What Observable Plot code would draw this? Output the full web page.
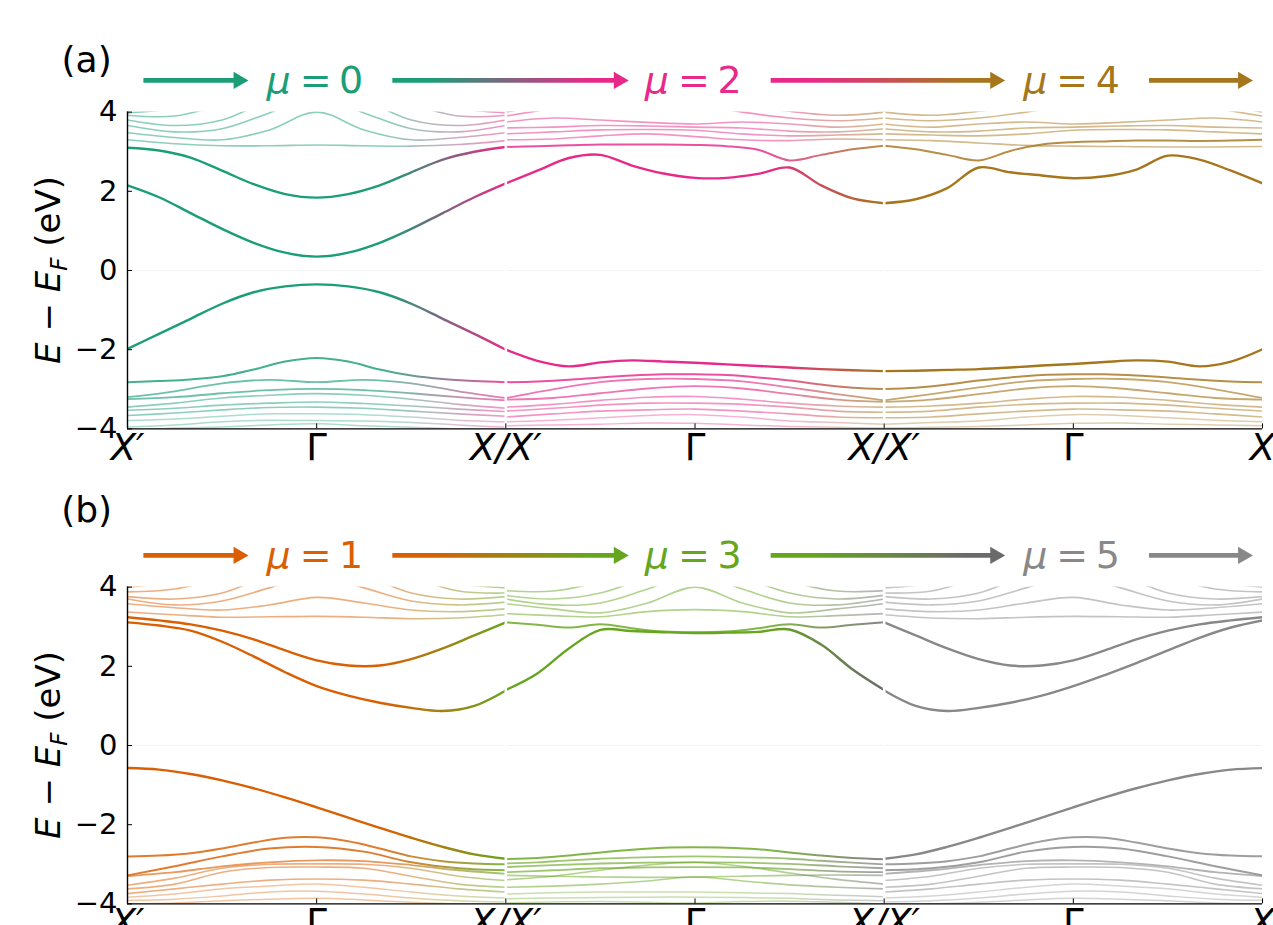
<!DOCTYPE html>
<html><head><meta charset="utf-8">
<script src="https://cdn.jsdelivr.net/npm/d3@7"></script>
<script src="https://cdn.jsdelivr.net/npm/@observablehq/plot@0.6"></script>
<style>
body{margin:0;background:#fff;font-family:"DejaVu Sans",sans-serif;}
svg{display:block;}
</style></head><body><div id="chart"></div>
<script>
// ---------------- DATA ----------------
// k-path: X' -> Γ -> X / X' -> Γ -> X / X' -> Γ -> X  (segments 0,1,2)
const xTickVals = [0, 1, 2, 3];
const xTickText = ["X\u2032", "X/X\u2032", "X/X\u2032", "X"];
const gammaTicks = [0.5, 1.5, 2.5];
const yTicks = [-4, -2, 0, 2, 4];
const muA = [0, 2, 4];
const muB = [1, 3, 5];
const colorsA = ["#1b9e77", "#e7298a", "#a6761d"];
const colorsB = ["#d95f02", "#66a61e", "#888888"];

// Panel (a), segment 0 (mu=0): main bands, 13 samples per segment
const a0_C2 = [3.10, 3.03, 2.85, 2.52, 2.18, 1.93, 1.84, 1.93, 2.15, 2.48, 2.80, 3.00, 3.12];
const a0_C1 = [2.15, 1.85, 1.45, 1.05, 0.70, 0.45, 0.35, 0.45, 0.70, 1.05, 1.45, 1.85, 2.20];
const a0_V1 = [-1.98, -1.60, -1.22, -0.84, -0.55, -0.40, -0.35, -0.40, -0.55, -0.84, -1.22, -1.60, -2.00];
const a0_V2 = [-2.82, -2.79, -2.75, -2.67, -2.50, -2.30, -2.21, -2.30, -2.50, -2.65, -2.74, -2.79, -2.82];
// faint bands, 9 samples per segment
const a0_up = [
  [3.30, 3.20, 3.15, 3.15, 3.17, 3.15, 3.14, 3.18, 3.28],
  [3.48, 3.36, 3.30, 3.55, 4.00, 3.55, 3.30, 3.36, 3.48],
  [3.66, 3.50, 3.58, 3.98, 4.40, 3.98, 3.58, 3.50, 3.66],
  [3.80, 3.66, 3.80, 4.30, 4.60, 4.30, 3.80, 3.66, 3.80],
  [3.92, 3.90, 4.20, 4.60, 4.80, 4.60, 4.20, 3.90, 3.92],
  [3.98, 4.10, 4.40, 4.70, 4.90, 4.70, 4.40, 4.10, 3.98]];
const a0_lo = [
  [-3.20, -3.05, -2.85, -2.76, -2.82, -2.76, -2.85, -3.05, -3.22],
  [-3.25, -3.20, -3.10, -3.02, -2.99, -3.02, -3.10, -3.20, -3.28],
  [-3.45, -3.35, -3.22, -3.15, -3.11, -3.15, -3.25, -3.38, -3.48],
  [-3.53, -3.48, -3.40, -3.35, -3.32, -3.36, -3.42, -3.50, -3.56],
  [-3.66, -3.60, -3.52, -3.46, -3.45, -3.48, -3.55, -3.62, -3.68],
  [-3.79, -3.75, -3.68, -3.62, -3.62, -3.64, -3.70, -3.78, -3.82],
  [-3.95, -3.90, -3.82, -3.78, -3.79, -3.80, -3.84, -3.90, -3.96],
  [-4.05, -3.98, -3.95, -3.90, -3.87, -3.92, -3.96, -4.00, -4.05]];

// Panel (a), segment 1 (mu=2)
const a1_D2 = [3.12, 3.14, 3.16, 3.18, 3.18, 3.18, 3.17, 3.14, 3.05, 2.78, 2.92, 3.06, 3.15];
const a1_D1 = [2.20, 2.52, 2.84, 2.92, 2.65, 2.45, 2.34, 2.34, 2.44, 2.60, 2.15, 1.82, 1.70];
const a1_V1 = [-2.00, -2.28, -2.42, -2.32, -2.27, -2.30, -2.33, -2.37, -2.41, -2.45, -2.49, -2.52, -2.54];
const a1_V2 = [-2.82, -2.80, -2.76, -2.70, -2.65, -2.62, -2.62, -2.64, -2.70, -2.78, -2.88, -2.96, -2.99];
const a1_up = [
  [3.30, 3.32, 3.40, 3.45, 3.38, 3.30, 3.28, 3.32, 3.30],
  [3.45, 3.50, 3.55, 3.56, 3.54, 3.45, 3.40, 3.42, 3.45],
  [3.60, 3.62, 3.66, 3.65, 3.62, 3.60, 3.52, 3.50, 3.58],
  [3.75, 3.85, 3.80, 3.74, 3.70, 3.75, 3.70, 3.62, 3.70],
  [3.90, 4.10, 4.35, 4.40, 4.20, 4.00, 3.85, 3.78, 3.85],
  [4.00, 4.25, 4.60, 4.60, 4.45, 4.20, 4.02, 3.92, 4.00]];
const a1_lo = [
  [-3.22, -3.00, -2.82, -2.74, -2.74, -2.80, -2.95, -3.12, -3.28],
  [-3.26, -3.22, -3.10, -2.98, -2.92, -2.98, -3.12, -3.26, -3.32],
  [-3.45, -3.38, -3.28, -3.20, -3.18, -3.25, -3.35, -3.42, -3.45],
  [-3.55, -3.48, -3.40, -3.35, -3.35, -3.38, -3.45, -3.55, -3.58],
  [-3.70, -3.62, -3.55, -3.52, -3.50, -3.55, -3.62, -3.70, -3.72],
  [-3.82, -3.78, -3.72, -3.66, -3.64, -3.70, -3.80, -3.84, -3.88],
  [-3.92, -3.90, -3.88, -3.85, -3.86, -3.90, -3.94, -3.96, -3.98]];

// Panel (a), segment 2 (mu=4)
const a2_D2 = [3.15, 3.06, 2.92, 2.78, 3.02, 3.18, 3.24, 3.26, 3.28, 3.28, 3.27, 3.28, 3.30];
const a2_D1 = [1.70, 1.80, 2.08, 2.60, 2.48, 2.40, 2.33, 2.38, 2.55, 2.90, 2.80, 2.52, 2.20];
const a2_V1 = [-2.54, -2.53, -2.51, -2.49, -2.45, -2.40, -2.36, -2.31, -2.27, -2.30, -2.42, -2.30, -1.99];
const a2_V2 = [-2.99, -2.96, -2.88, -2.78, -2.70, -2.64, -2.62, -2.62, -2.65, -2.70, -2.76, -2.80, -2.82];
const a2_up = [
  [3.30, 3.28, 3.22, 3.16, 3.14, 3.13, 3.12, 3.12, 3.13],
  [3.45, 3.42, 3.40, 3.45, 3.54, 3.56, 3.55, 3.50, 3.45],
  [3.58, 3.50, 3.52, 3.60, 3.62, 3.65, 3.66, 3.62, 3.60],
  [3.70, 3.62, 3.70, 3.75, 3.70, 3.74, 3.80, 3.85, 3.75],
  [3.85, 3.78, 3.85, 4.00, 4.20, 4.40, 4.35, 4.10, 3.90],
  [4.00, 3.92, 4.02, 4.20, 4.45, 4.60, 4.60, 4.25, 4.00]];
const a2_lo = [
  [-3.28, -3.12, -2.95, -2.80, -2.74, -2.74, -2.82, -3.00, -3.22],
  [-3.32, -3.26, -3.12, -2.98, -2.92, -2.98, -3.10, -3.22, -3.26],
  [-3.45, -3.42, -3.35, -3.25, -3.18, -3.20, -3.28, -3.38, -3.45],
  [-3.58, -3.55, -3.45, -3.38, -3.35, -3.35, -3.40, -3.48, -3.55],
  [-3.72, -3.70, -3.62, -3.55, -3.50, -3.52, -3.55, -3.62, -3.70],
  [-3.88, -3.84, -3.80, -3.70, -3.64, -3.66, -3.72, -3.78, -3.82],
  [-3.98, -3.96, -3.94, -3.90, -3.86, -3.85, -3.88, -3.90, -3.92]];

// Panel (b), segment 0 (mu=1)
const b0_B2 = [3.24, 3.16, 3.06, 2.90, 2.68, 2.40, 2.15, 2.02, 2.02, 2.18, 2.45, 2.78, 3.11];
const b0_B1 = [3.11, 3.03, 2.90, 2.62, 2.25, 1.85, 1.50, 1.26, 1.08, 0.95, 0.87, 1.00, 1.39];
const b0_V1 = [-0.57, -0.61, -0.72, -0.88, -1.08, -1.31, -1.56, -1.82, -2.08, -2.33, -2.56, -2.75, -2.86];
const b0_V2 = [-2.80, -2.78, -2.72, -2.60, -2.45, -2.33, -2.32, -2.42, -2.60, -2.80, -2.92, -2.98, -3.00];
const b0_up = [
  [3.37, 3.30, 3.24, 3.25, 3.26, 3.24, 3.20, 3.22, 3.30],
  [3.58, 3.48, 3.42, 3.55, 3.74, 3.60, 3.42, 3.38, 3.45],
  [3.70, 3.55, 3.65, 3.98, 4.30, 3.98, 3.65, 3.55, 3.62],
  [3.76, 3.70, 3.85, 4.30, 4.60, 4.30, 3.85, 3.70, 3.76],
  [3.88, 3.95, 4.25, 4.60, 4.80, 4.60, 4.25, 3.90, 3.85],
  [4.00, 4.15, 4.50, 4.80, 5.00, 4.80, 4.45, 4.10, 3.98]];
const b0_lo = [
  [-3.28, -3.05, -2.80, -2.60, -2.56, -2.68, -2.95, -3.10, -3.15],
  [-3.30, -3.20, -3.05, -2.95, -2.90, -2.92, -3.02, -3.15, -3.24],
  [-3.53, -3.35, -3.10, -3.00, -2.99, -3.00, -3.10, -3.30, -3.41],
  [-3.62, -3.50, -3.20, -3.08, -3.07, -3.10, -3.30, -3.50, -3.58],
  [-3.74, -3.62, -3.50, -3.40, -3.37, -3.40, -3.50, -3.62, -3.70],
  [-3.83, -3.75, -3.62, -3.55, -3.50, -3.58, -3.70, -3.80, -3.85],
  [-3.91, -3.88, -3.80, -3.70, -3.68, -3.75, -3.85, -3.92, -3.95],
  [-4.00, -3.98, -3.92, -3.88, -3.86, -3.90, -3.96, -4.00, -4.02]];

// Panel (b), segment 1 (mu=3)
const b1_G1 = [1.40, 1.82, 2.45, 2.92, 2.89, 2.86, 2.84, 2.85, 2.87, 2.93, 2.55, 1.92, 1.40];
const b1_G2 = [3.11, 3.05, 2.98, 3.06, 2.96, 2.88, 2.86, 2.88, 2.96, 3.06, 2.98, 3.05, 3.11];
const b1_V1 = [-2.87, -2.84, -2.78, -2.70, -2.63, -2.58, -2.57, -2.58, -2.62, -2.70, -2.78, -2.84, -2.87];
const b1_V2 = [-2.98, -2.95, -2.90, -2.86, -2.83, -2.81, -2.80, -2.81, -2.83, -2.86, -2.91, -2.96, -3.00];
const b1_up = [
  [3.33, 3.28, 3.25, 3.38, 3.43, 3.38, 3.25, 3.28, 3.33],
  [3.58, 3.45, 3.35, 3.60, 4.00, 3.60, 3.35, 3.45, 3.58],
  [3.70, 3.55, 3.60, 3.95, 4.35, 3.95, 3.60, 3.55, 3.70],
  [3.79, 3.70, 3.85, 4.25, 4.60, 4.25, 3.85, 3.70, 3.79],
  [3.91, 3.90, 4.15, 4.60, 4.80, 4.60, 4.15, 3.90, 3.91]];
const b1_lo = [
  [-3.07, -3.02, -2.98, -2.96, -2.95, -2.96, -2.99, -3.05, -3.10],
  [-3.20, -3.15, -3.10, -3.08, -3.07, -3.08, -3.12, -3.18, -3.20],
  [-3.39, -3.30, -3.15, -3.02, -2.95, -3.05, -3.22, -3.38, -3.50],
  [-3.28, -3.30, -3.32, -3.33, -3.32, -3.30, -3.28, -3.27, -3.28],
  [-3.58, -3.55, -3.50, -3.42, -3.32, -3.42, -3.52, -3.58, -3.62],
  [-3.75, -3.72, -3.70, -3.70, -3.70, -3.72, -3.74, -3.78, -3.82],
  [-3.87, -3.85, -3.84, -3.83, -3.83, -3.84, -3.86, -3.90, -3.92],
  [-3.97, -3.95, -3.94, -3.96, -3.98, -3.94, -3.93, -3.96, -4.00]];

// Panel (b), segment 2 (mu=5)
const b2_B1 = [1.39, 1.00, 0.87, 0.95, 1.08, 1.26, 1.50, 1.78, 2.08, 2.40, 2.72, 2.98, 3.16];
const b2_B2 = [3.11, 2.78, 2.45, 2.18, 2.02, 2.02, 2.15, 2.40, 2.68, 2.90, 3.06, 3.16, 3.24];
const b2_V1 = [-2.86, -2.75, -2.56, -2.33, -2.08, -1.82, -1.56, -1.31, -1.08, -0.88, -0.72, -0.61, -0.57];
const b2_V2 = [-3.00, -2.98, -2.92, -2.80, -2.60, -2.42, -2.32, -2.33, -2.45, -2.60, -2.72, -2.78, -2.80];
const b2_up = [
  [3.30, 3.22, 3.20, 3.24, 3.26, 3.25, 3.24, 3.30, 3.37],
  [3.45, 3.38, 3.42, 3.60, 3.74, 3.55, 3.42, 3.48, 3.58],
  [3.62, 3.55, 3.65, 3.98, 4.30, 3.98, 3.65, 3.55, 3.70],
  [3.76, 3.70, 3.85, 4.30, 4.60, 4.30, 3.85, 3.70, 3.76],
  [3.85, 3.90, 4.25, 4.60, 4.80, 4.60, 4.25, 3.95, 3.88],
  [3.98, 4.10, 4.45, 4.80, 5.00, 4.80, 4.50, 4.15, 4.00]];
const b2_lo = [
  [-3.15, -3.10, -2.95, -2.68, -2.56, -2.60, -2.80, -3.05, -3.28],
  [-3.24, -3.15, -3.02, -2.92, -2.90, -2.95, -3.05, -3.20, -3.30],
  [-3.41, -3.30, -3.10, -3.00, -2.99, -3.00, -3.10, -3.35, -3.53],
  [-3.58, -3.50, -3.30, -3.10, -3.07, -3.08, -3.20, -3.50, -3.62],
  [-3.70, -3.62, -3.50, -3.40, -3.37, -3.40, -3.50, -3.62, -3.74],
  [-3.85, -3.80, -3.70, -3.58, -3.50, -3.55, -3.62, -3.75, -3.83],
  [-3.95, -3.92, -3.85, -3.75, -3.68, -3.70, -3.80, -3.88, -3.91],
  [-4.02, -4.00, -3.96, -3.90, -3.86, -3.88, -3.92, -3.98, -4.00]];

// ---------------- STYLE / BUILD ----------------
const LV = {m: [2.4, 1], s: [2.0, 0.82], t: [1.8, 0.64], l: [1.6, 0.5], f: [1.5, 0.36]};
const upLv = ["l", "l", "l", "l", "l", "l"];
const loLv = ["t", "t", "l", "l", "l", "f", "f", "f"];
const loLvB = ["s", "t", "l", "l", "l", "f", "f", "f"];
const group = (seg, arrs, lvs) => arrs.map((v, i) => ({seg, v, lv: lvs[i] || "f"}));

const bandsA = [
  ...group(0, a0_up, upLv), ...group(0, a0_lo, loLv),
  {seg: 0, v: a0_C2, lv: "m"}, {seg: 0, v: a0_C1, lv: "m"}, {seg: 0, v: a0_V1, lv: "m"}, {seg: 0, v: a0_V2, lv: "s"},
  ...group(1, a1_up, upLv), ...group(1, a1_lo, loLv),
  {seg: 1, v: a1_D2, lv: "s"}, {seg: 1, v: a1_D1, lv: "m"}, {seg: 1, v: a1_V1, lv: "m"}, {seg: 1, v: a1_V2, lv: "s"},
  ...group(2, a2_up, upLv), ...group(2, a2_lo, loLv),
  {seg: 2, v: a2_D2, lv: "s"}, {seg: 2, v: a2_D1, lv: "m"}, {seg: 2, v: a2_V1, lv: "m"}, {seg: 2, v: a2_V2, lv: "s"}];
const bandsB = [
  ...group(0, b0_up, upLv), ...group(0, b0_lo, loLvB),
  {seg: 0, v: b0_B2, lv: "m"}, {seg: 0, v: b0_B1, lv: "m"}, {seg: 0, v: b0_V1, lv: "m"}, {seg: 0, v: b0_V2, lv: "s"},
  ...group(1, b1_up, upLv), ...group(1, b1_lo, loLv),
  {seg: 1, v: b1_G1, lv: "m"}, {seg: 1, v: b1_G2, lv: "s"}, {seg: 1, v: b1_V1, lv: "s"}, {seg: 1, v: b1_V2, lv: "t"},
  ...group(2, b2_up, upLv), ...group(2, b2_lo, loLvB),
  {seg: 2, v: b2_B1, lv: "m"}, {seg: 2, v: b2_B2, lv: "m"}, {seg: 2, v: b2_V1, lv: "m"}, {seg: 2, v: b2_V2, lv: "s"}];

function toRows(bands) {
  const rows = [];
  bands.forEach((b, j) => b.v.forEach((E, i) =>
    rows.push({x: b.seg + i / (b.v.length - 1), E, key: j, lv: b.lv})));
  return rows;
}

const BAND_SENT = "#010203", ARROW_SENT = "#030201";
const YARROW = 4.80;
const arrowsX = [[0.042, 0.32], [0.70, 1.325], [1.70, 2.32], [2.70, 2.975]];

function makePanel(cfg) {
  const rows = toRows(cfg.bands);
  const xLab = new Map(xTickVals.map((v, i) => [v, xTickText[i]]));
  const arrows = arrowsX.map(([a, b], i) => ({x1: a, x2: b, xs: b - 0.032, col: cfg.heads[i]}));
  const mus = cfg.mu.map((m, i) => ({x: gammaTicks[i], n: m, col: cfg.textCols[i]}));
  const marks = [
    Plot.ruleY([0], {stroke: "#000", strokeOpacity: 0.05}),
    ...["f", "l", "t", "s", "m"].map(lv => Plot.line(rows.filter(d => d.lv === lv), {
      x: "x", y: "E", z: "key", stroke: BAND_SENT, strokeWidth: LV[lv][0], strokeOpacity: LV[lv][1],
      curve: "catmull-rom", clip: true})),
    Plot.ruleX([1, 2], {y1: -4, y2: 4, stroke: "white", strokeWidth: 2.6}),
    Plot.ruleX([0], {y1: -4, y2: 4, stroke: "#000", strokeWidth: 1.4}),
    Plot.ruleY([-4], {x1: 0, x2: 3, stroke: "#000", strokeWidth: 1.4}),
    Plot.axisY(yTicks, {tickSize: -5, tickPadding: 15, fontSize: 29, label: null}),
    Plot.axisX(xTickVals, {tickSize: -5, tickPadding: 10, fontSize: 37, fontStyle: "italic", tickFormat: d => xLab.get(d), label: null}),
    Plot.axisX(gammaTicks, {tickSize: -5, tickPadding: 10, fontSize: 37, tickFormat: () => "\u0393", label: null}),
    Plot.link(arrows, {x1: "x1", x2: "xs", y1: () => YARROW, y2: () => YARROW, stroke: ARROW_SENT, strokeWidth: 4.7}),
    Plot.dot(arrows, {x: "x2", y: () => YARROW, symbol: "triangle", r: 6.4, rotate: 90, dx: -10, fill: "col"}),
    Plot.text(mus, {x: "x", y: () => YARROW, text: () => "\u03bc", fontStyle: "italic", textAnchor: "end", dx: -26, fill: "col", fontSize: 38}),
    Plot.text(mus, {x: "x", y: () => YARROW, text: d => "=\u2009" + d.n, textAnchor: "start", dx: -17, fill: "col", fontSize: 38}),
    Plot.text([cfg.label], {x: -0.108, y: cfg.labelY, text: d => d, fontSize: 36, fill: "#000"})
  ];
  const svg = Plot.plot({
    width: 1273, height: 475, marginLeft: 127, marginRight: 11, marginTop: 111.6, marginBottom: 46.6,
    x: {domain: [0, 3]}, y: {domain: [-4, 4]}, color: {type: "identity"},
    style: {fontFamily: "DejaVu Sans", background: "white", overflow: "visible", color: "black"},
    marks
  });
  const sx = svg.scale("x");
  const ns = "http://www.w3.org/2000/svg";
  const defs = document.createElementNS(ns, "defs");
  svg.insertBefore(defs, svg.firstChild);
  function grad(id, stops) {
    const g = document.createElementNS(ns, "linearGradient");
    g.setAttribute("id", id);
    g.setAttribute("gradientUnits", "userSpaceOnUse");
    g.setAttribute("x1", sx.apply(0)); g.setAttribute("x2", sx.apply(3));
    g.setAttribute("y1", 0); g.setAttribute("y2", 0);
    stops.forEach(([x, c]) => {
      const s = document.createElementNS(ns, "stop");
      s.setAttribute("offset", x / 3); s.setAttribute("stop-color", c);
      g.appendChild(s);
    });
    defs.appendChild(g);
  }
  grad(cfg.id + "band", cfg.bandStops);
  grad(cfg.id + "arrow", cfg.arrowStops);
  svg.querySelectorAll(`[stroke="${BAND_SENT}"]`).forEach(el => el.setAttribute("stroke", `url(#${cfg.id}band)`));
  svg.querySelectorAll(`[stroke="${ARROW_SENT}"]`).forEach(el => el.setAttribute("stroke", `url(#${cfg.id}arrow)`));
  // y-axis title
  const t = d3.select(svg).append("text")
    .attr("transform", `translate(60,${svg.scale("y").apply(0)}) rotate(-90)`)
    .attr("text-anchor", "middle").attr("font-size", 34).attr("fill", "black")
    .attr("font-family", "DejaVu Sans");
  t.append("tspan").attr("font-style", "italic").text("E");
  t.append("tspan").text(" \u2212 ");
  t.append("tspan").attr("font-style", "italic").text("E");
  t.append("tspan").attr("font-style", "italic").attr("font-size", 23).attr("dy", 7).text("F");
  t.append("tspan").attr("dy", -7).text(" (eV)");
  return svg;
}

const [cA0, cA1, cA2] = colorsA;
const [cB0, cB1, cB2] = colorsB;
const darkGray = "#6a6a6a";
const chart = document.getElementById("chart");
chart.appendChild(makePanel({
  id: "pa", label: "(a)", labelY: 5.30, bands: bandsA, mu: muA, textCols: colorsA,
  heads: [cA0, cA1, cA2, cA2],
  bandStops: [[0, cA0], [0.68, cA0], [1, cA1], [1.68, cA1], [2, cA2], [3, cA2]],
  arrowStops: [[0, cA0], [0.8, cA0], [1.22, cA1], [1.8, cA1], [2.22, cA2], [3, cA2]]
}));
chart.appendChild(makePanel({
  id: "pb", label: "(b)", labelY: 5.93, bands: bandsB, mu: muB, textCols: colorsB,
  heads: [cB0, cB1, darkGray, cB2],
  bandStops: [[0, cB0], [0.68, cB0], [1, cB1], [1.68, cB1], [2, darkGray], [2, cB2], [3, cB2]],
  arrowStops: [[0, cB0], [0.8, cB0], [1.22, cB1], [1.8, cB1], [2.22, darkGray], [2.4, darkGray], [2.41, cB2], [3, cB2]]
}));
</script></body></html>
